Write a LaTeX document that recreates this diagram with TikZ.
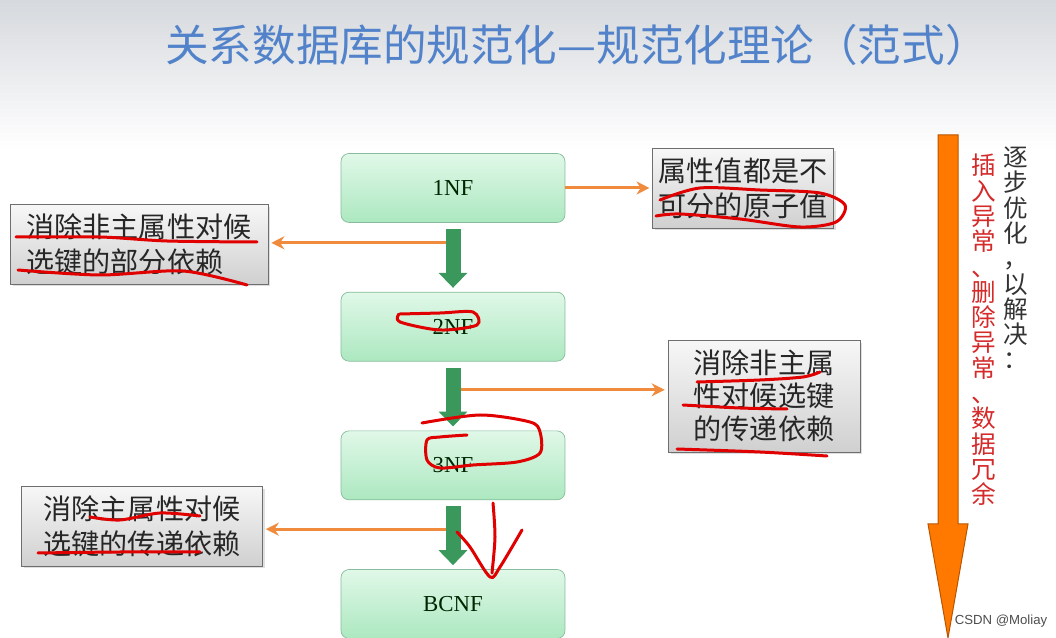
\documentclass[tikz,border=0pt]{standalone}
\usepackage{fontspec}
\setmainfont{Liberation Serif}
\setsansfont{Liberation Sans}
\newfontfamily\cjk{Noto Sans CJK SC}
\usetikzlibrary{positioning,arrows.meta,calc,shadows}
\definecolor{titleblue}{HTML}{5283CA}
\definecolor{nftop}{HTML}{E0F8E8}
\definecolor{nfbot}{HTML}{ACE8C0}
\definecolor{nfline}{HTML}{86BC9C}
\definecolor{flowgreen}{HTML}{3A985C}
\definecolor{arrorange}{HTML}{F08A3C}
\definecolor{bigorange}{HTML}{FF7800}
\definecolor{bigline}{HTML}{B85600}
\definecolor{notetop}{HTML}{F7F7F7}
\definecolor{notebot}{HTML}{D0D0D0}
\definecolor{noteline}{HTML}{6E6E6E}
\definecolor{probred}{HTML}{D42A2A}
\definecolor{scribred}{HTML}{E00000}
\definecolor{bgtop}{HTML}{D6D9DD}
\definecolor{bgmid}{HTML}{E6E8EB}

\begin{document}
\begin{tikzpicture}[
    x=0.02cm, y=-0.02cm,
    node distance=1.38cm,
    nf/.style={draw=nfline, rounded corners=0.16cm, top color=nftop,
               bottom color=nfbot, minimum width=4.48cm,
               minimum height=1.38cm, font=\fontsize{13}{13}\selectfont,
               text=black!85!green},
    note/.style={draw=noteline, top color=notetop, bottom color=notebot,
                 font=\cjk\fontsize{16}{20}\selectfont, text=black!85,
                 align=left, drop shadow={opacity=0.25,
                 shadow xshift=0.05cm, shadow yshift=-0.05cm}},
    vtext/.style={font=\cjk\fontsize{14}{14.4}\selectfont, align=center,
                  inner sep=0pt},
    flow/.style={draw=flowgreen, line width=0.3cm,
                 -{Triangle[width=0.56cm, length=0.3cm]},
                 shorten <=0.12cm, shorten >=0.08cm},
    arr/.style={draw=arrorange, line width=0.06cm,
                -{Stealth[length=0.26cm, width=0.26cm]}, shorten >=0.06cm},
    scribble/.style={draw=scribred, line width=0.06cm, line cap=round,
                     line join=round}
]
  \useasboundingbox (0,0) rectangle (1056,638);
  \fill[top color=bgtop, middle color=bgmid, bottom color=white]
    (0,0) rectangle (1056,150);

  \node[font=\cjk\fontsize{24.8}{25}\selectfont, text=titleblue] (title)
    at (577,45) {关系数据库的规范化—规范化理论（范式）};

  \node[nf] (n1) at (453,188) {1NF};
  \node[nf, below=of n1] (n2) {2NF};
  \node[nf, below=of n2] (n3) {3NF};
  \node[nf, below=of n3] (n4) {BCNF};

  \node[note, minimum width=3.54cm, minimum height=1.6cm] (atom)
    at (743,188) {属性值都是不\\可分的原子值};
  \node[note, minimum width=5.16cm, minimum height=1.6cm] (part)
    at (139,244) {消除非主属性对候\\选键的部分依赖};
  \node[note, minimum width=3.84cm, minimum height=2.24cm,
        font=\cjk\fontsize{16}{18.8}\selectfont] (trans)
    at (764,396) {消除非主属\\性对候选键\\的传递依赖};
  \node[note, minimum width=4.82cm, minimum height=1.6cm] (bc)
    at (142,526) {消除主属性对候\\选键的传递依赖};

  \coordinate (c1) at ($(n1.south)!0.29!(n2.north)$);
  \coordinate (c2) at ($(n2.south)!0.41!(n3.north)$);
  \coordinate (c3) at ($(n3.south)!0.42!(n4.north)$);

  \draw[arr] (n1) -- (atom);
  \draw[arr] (c1) -- (c1 -| part.east);
  \draw[arr] (c2) -- (c2 -| trans.west);
  \draw[arr] (c3) -- (c3 -| bc.east);

  \draw[flow] (n1) -- (n2);
  \draw[flow] (n2) -- (n3);
  \draw[flow] (n3) -- (n4);

  % big arrow on the right
  \filldraw[fill=bigorange, draw=bigline, line width=0.02cm]
    (938,135) -- (958,135) -- (958,524) -- (968,524) -- (948,638)
    -- (928,524) -- (938,524) -- cycle;
  \node[vtext, text=black!80] (step) at (1016,258)
    {逐\\步\\优\\化\\，\\以\\解\\决\\：};
  \node[vtext, text=probred] (prob) at (984,330)
    {插\\入\\异\\常\\、\\删\\除\\异\\常\\、\\数\\据\\冗\\余};

  \node[font=\sffamily\fontsize{7.5}{8}\selectfont, text=black!70] (mark)
    at (1001,621) {CSDN @Moliay};

  % red marks
  \draw[scribble] plot[smooth] coordinates {(660,200) (700,188) (760,190)
    (820,193) (845,205) (836,222) (800,227) (740,219) (680,214) (656,216)};
  \draw[scribble] plot[smooth] coordinates {(16,237) (100,237) (167,241)
    (257,242)};
  \draw[scribble] plot[smooth] coordinates {(18,270) (100,275) (183,271)
    (247,285)};
  \draw[scribble] plot[smooth] coordinates {(400,314) (440,313) (473,312)
    (477,325) (440,330) (400,322) (399,314)};
  \draw[scribble] plot[smooth] coordinates {(697,382) (760,380) (803,377)
    (820,372)};
  \draw[scribble] plot[smooth] coordinates {(683,405) (740,408) (787,409)};
  \draw[scribble] plot[smooth] coordinates {(677,449) (760,452) (827,456)};
  \draw[scribble] plot[smooth] coordinates {(422,423) (480,415) (530,422)
    (540,432) (540,453) (517,462) (473,465) (440,468) (427,460) (427,440)
    (440,437) (467,435)};
  \draw[scribble] plot[smooth] coordinates {(90,517) (120,520) (160,513)
    (200,516)};
  \draw[scribble] plot[smooth] coordinates {(38,553) (120,552) (200,552)};
  \draw[scribble] plot[smooth] coordinates {(493,503) (495,537) (492,573)};
  \draw[scribble] plot[smooth] coordinates {(457,532) (470,547) (490,577)
    (500,567) (522,530)};
\end{tikzpicture}
\end{document}
